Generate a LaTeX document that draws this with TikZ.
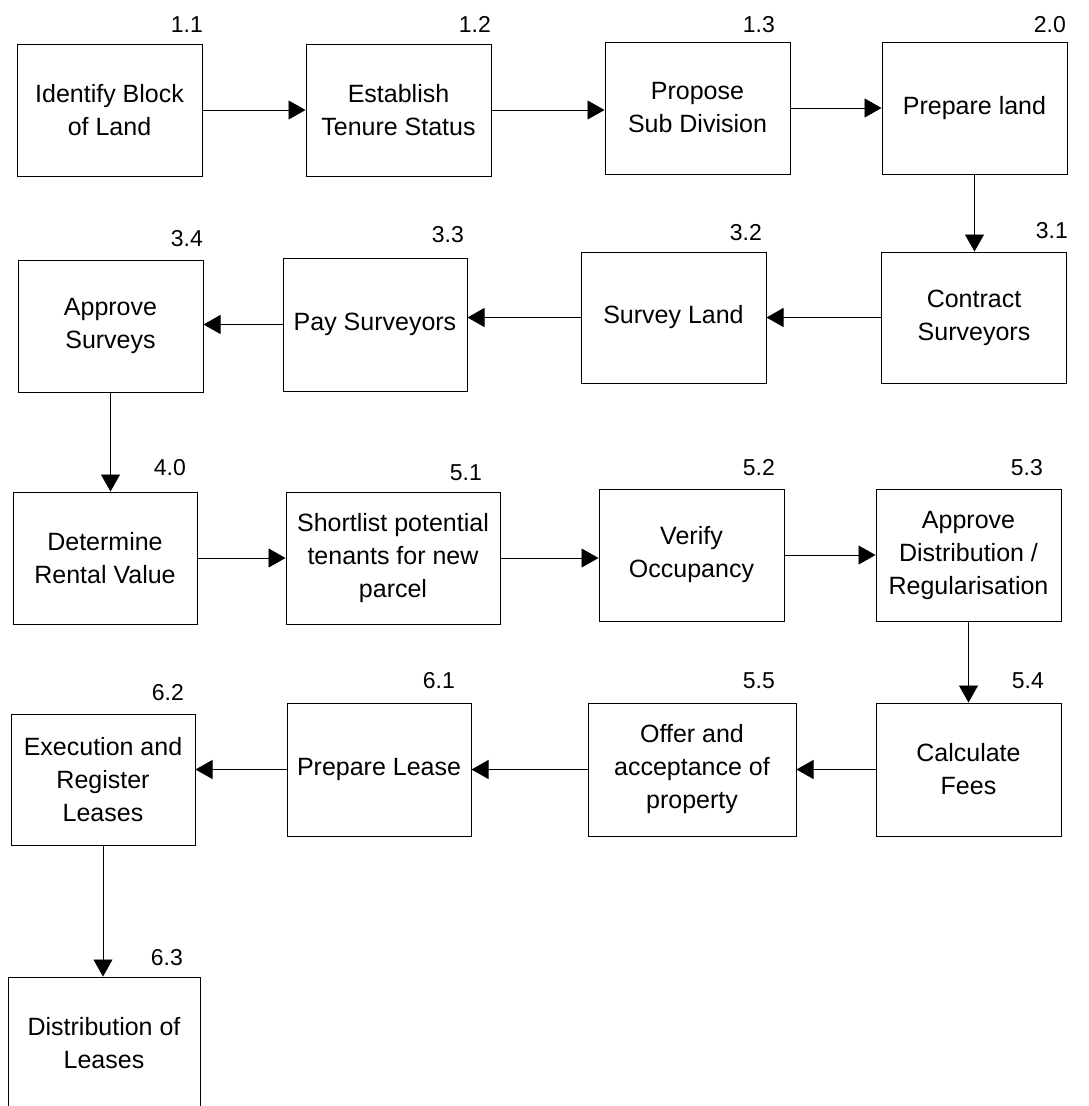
\documentclass[tikz,border=0pt]{standalone}
\usepackage{fontspec}
\setmainfont{Liberation Sans}
\usetikzlibrary{arrows.meta}

\newcommand{\boxfont}{\fontsize{25}{33}\selectfont}
\newcommand{\tagfont}{\fontsize{23}{27}\selectfont}

\begin{document}
\begin{tikzpicture}[
  x=1pt, y=-1pt,
  stepbox/.style={draw=black, line width=1pt, inner sep=0pt, fill=white,
    minimum width=185pt, minimum height=132pt, align=center, font=\boxfont},
  tag/.style={anchor=base east, inner sep=0pt, font=\tagfont},
  flow/.style={draw=black, line width=0.9pt, -{Triangle[length=17pt,width=19pt]}}
]
% page frame
\clip (0,0) rectangle (1089,1106);
\fill[white] (0,0) rectangle (1089,1106);

% ---- row 1 ----
\node[stepbox] (n11) at (109.5,110) {Identify Block\\of Land};
\node[stepbox] (n12) at (398.5,110) {Establish\\Tenure Status};
\node[stepbox] (n13) at (697.5,108) {Propose\\Sub Division};
\node[stepbox] (n20) at (974.5,108) {Prepare land};

% ---- row 2 ----
\node[stepbox, minimum height=131pt] (n31) at (974,317.5) {Contract\\Surveyors};
\node[stepbox, minimum height=131pt] (n32) at (673.5,317.5) {Survey Land};
\node[stepbox, minimum width=184pt, minimum height=133pt] (n33) at (375,324.5) {Pay Surveyors};
\node[stepbox] (n34) at (110.5,326) {Approve\\Surveys};

% ---- row 3 ----
\node[stepbox, minimum width=184pt] (n40) at (105,558) {Determine\\Rental Value};
\node[stepbox, minimum width=214pt] (n51) at (393,558) {Shortlist potential\\tenants for new\\parcel};
\node[stepbox] (n52) at (691.5,555) {Verify\\Occupancy};
\node[stepbox] (n53) at (968.5,555) {Approve\\Distribution /\\Regularisation};

% ---- row 4 ----
\node[stepbox, minimum height=133pt] (n54) at (968.5,769.5) {Calculate\\Fees};
\node[stepbox, minimum width=208pt, minimum height=133pt] (n55) at (692,769.5) {Offer and\\acceptance of\\property};
\node[stepbox, minimum width=184pt, minimum height=133pt] (n61) at (379,769.5) {Prepare Lease};
\node[stepbox, minimum width=184pt, minimum height=131pt] (n62) at (103,779.5) {Execution and\\Register\\Leases};

% ---- row 5 ----
\node[stepbox, minimum width=192pt] (n63) at (104,1043) {Distribution of\\Leases};

% ---- step numbers ----
\node[tag] (t11) at (203,32)  {1.1};
\node[tag] (t12) at (491,32)  {1.2};
\node[tag] (t13) at (775,32)  {1.3};
\node[tag] (t20) at (1066,32) {2.0};
\node[tag] (t31) at (1068,238) {3.1};
\node[tag] (t32) at (762,240) {3.2};
\node[tag] (t33) at (464,242) {3.3};
\node[tag] (t34) at (203,246) {3.4};
\node[tag] (t40) at (186,475) {4.0};
\node[tag] (t51) at (482,480) {5.1};
\node[tag] (t52) at (775,475) {5.2};
\node[tag] (t53) at (1043,475) {5.3};
\node[tag] (t54) at (1044,688) {5.4};
\node[tag] (t55) at (775,688) {5.5};
\node[tag] (t61) at (455,688) {6.1};
\node[tag] (t62) at (184,700) {6.2};
\node[tag] (t63) at (183,965) {6.3};

% ---- connectors ----
\draw[flow] (n11.east) -- (n11.east -| n12.west);
\draw[flow] (n12.east) -- (n12.east -| n13.west);
\draw[flow] (n13.east) -- (n13.east -| n20.west);
\draw[flow] (n20.south) -- (n20.south |- n31.north);
\draw[flow] (n31.west) -- (n31.west -| n32.east);
\draw[flow] (n32.west) -- (n32.west -| n33.east);
\draw[flow] (n33.west) -- (n33.west -| n34.east);
\draw[flow] (n34.south) -- (n34.south |- n40.north);
\draw[flow] (n40.east) -- (n40.east -| n51.west);
\draw[flow] (n51.east) -- (n51.east -| n52.west);
\draw[flow] (n52.east) -- (n52.east -| n53.west);
\draw[flow] (n53.south) -- (n53.south |- n54.north);
\draw[flow] (n54.west) -- (n54.west -| n55.east);
\draw[flow] (n55.west) -- (n55.west -| n61.east);
\draw[flow] (n61.west) -- (n61.west -| n62.east);
\draw[flow] (n62.south) -- (n62.south |- n63.north);
\end{tikzpicture}
\end{document}
